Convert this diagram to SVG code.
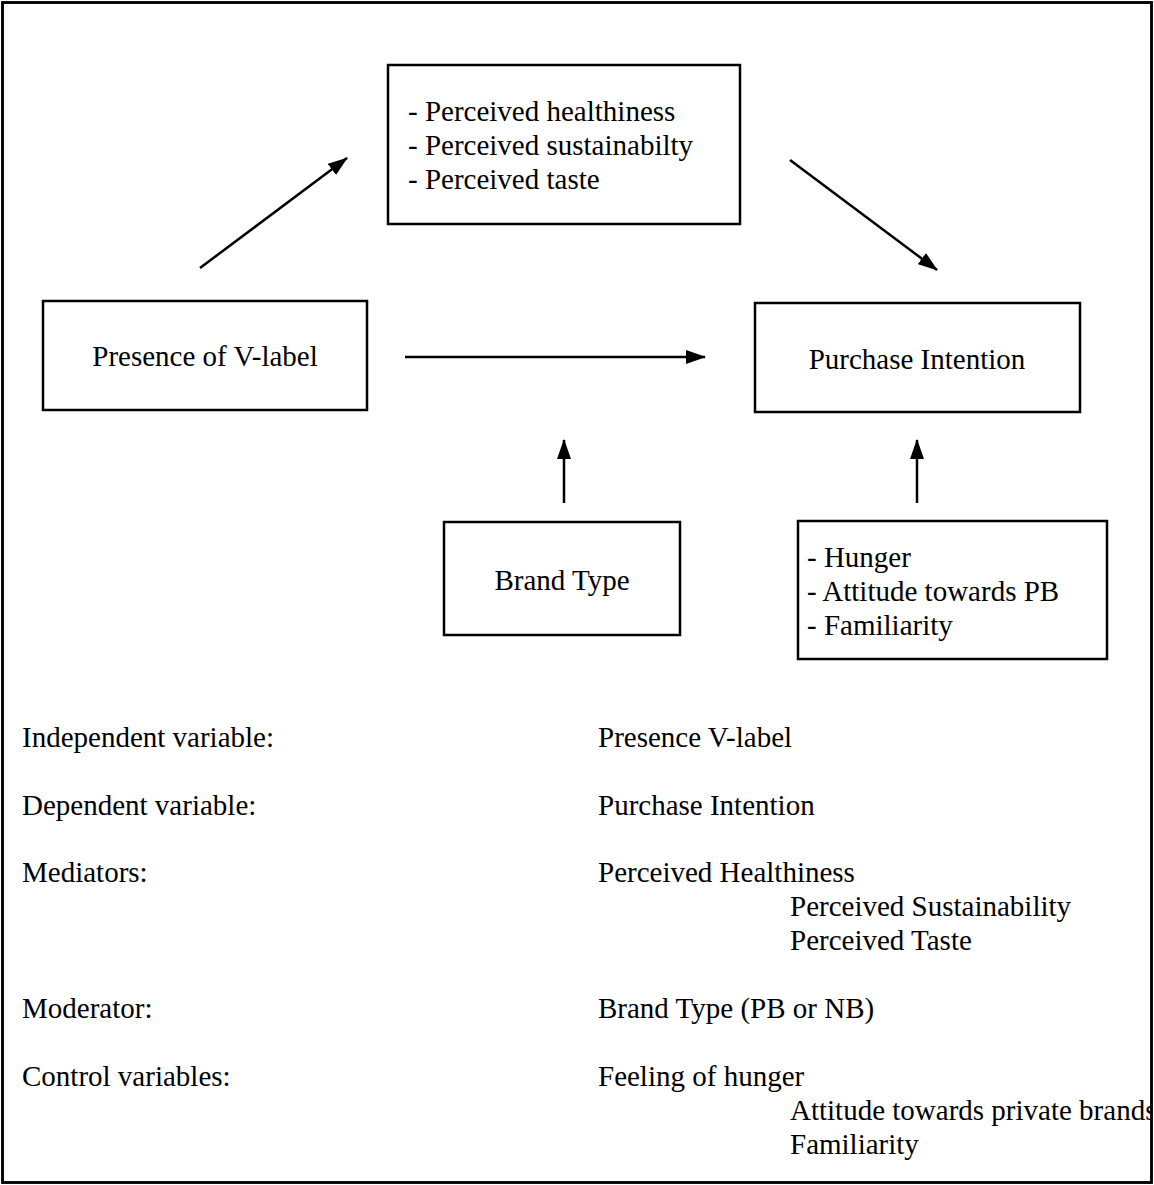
<svg xmlns="http://www.w3.org/2000/svg" width="1154" height="1185" viewBox="0 0 1154 1185">
<defs>
<style>
.box{fill:#fff;stroke:#000;stroke-width:2.5}
.t{font-family:"Liberation Serif","Times New Roman",serif;font-size:29px;fill:#000}
.c{text-anchor:middle}
</style>
<marker id="ahd" viewBox="0 0 20 14" refX="19" refY="7" markerWidth="20" markerHeight="14" markerUnits="userSpaceOnUse" orient="auto">
<path d="M0,0 L20,7 L0,14 Z" fill="#000"/>
</marker>
<clipPath id="frame"><rect x="0" y="0" width="1150" height="1185"/></clipPath>
</defs>
<rect x="2.5" y="2.5" width="1149" height="1180" fill="#fff" stroke="#000" stroke-width="2.5"/>
<g id="connectors" stroke="#000" stroke-width="2.5" fill="none">
<line x1="200" y1="268" x2="347" y2="158" marker-end="url(#ahd)"/>
<line x1="790" y1="160" x2="937" y2="270" marker-end="url(#ahd)"/>
<line x1="405" y1="357" x2="705" y2="357" marker-end="url(#ahd)"/>
<line x1="564" y1="503" x2="564" y2="440" marker-end="url(#ahd)"/>
<line x1="917" y1="503" x2="917" y2="440" marker-end="url(#ahd)"/>
</g>
<g id="mediators">
<rect class="box" x="388" y="65" width="352" height="159"/>
<text class="t" x="408" y="121">- Perceived healthiness</text>
<text class="t" x="408" y="155">- Perceived sustainabilty</text>
<text class="t" x="408" y="189">- Perceived taste</text>
</g>
<g id="presence">
<rect class="box" x="43" y="301" width="324" height="109"/>
<text class="t c" x="205" y="366">Presence of V-label</text>
</g>
<g id="purchase">
<rect class="box" x="755" y="303" width="325" height="109"/>
<text class="t c" x="917" y="369">Purchase Intention</text>
</g>
<g id="brandtype">
<rect class="box" x="444" y="522" width="236" height="113"/>
<text class="t c" x="562" y="590">Brand Type</text>
</g>
<g id="controls">
<rect class="box" x="798" y="521" width="309" height="138"/>
<text class="t" x="807" y="567">- Hunger</text>
<text class="t" x="807" y="601">- Attitude towards PB</text>
<text class="t" x="807" y="635">- Familiarity</text>
</g>
<g id="legend" clip-path="url(#frame)">
<text class="t" x="22" y="747">Independent variable:</text>
<text class="t" x="598" y="747">Presence V-label</text>
<text class="t" x="22" y="815">Dependent variable:</text>
<text class="t" x="598" y="815">Purchase Intention</text>
<text class="t" x="22" y="882">Mediators:</text>
<text class="t" x="598" y="882">Perceived Healthiness</text>
<text class="t" x="790" y="916">Perceived Sustainability</text>
<text class="t" x="790" y="950">Perceived Taste</text>
<text class="t" x="22" y="1018">Moderator:</text>
<text class="t" x="598" y="1018">Brand Type (PB or NB)</text>
<text class="t" x="22" y="1086">Control variables:</text>
<text class="t" x="598" y="1086">Feeling of hunger</text>
<text class="t" x="790" y="1120">Attitude towards private brands</text>
<text class="t" x="790" y="1154">Familiarity</text>
</g>
<rect x="2.5" y="2.5" width="1149" height="1180" fill="none" stroke="#000" stroke-width="2.5"/>
</svg>
